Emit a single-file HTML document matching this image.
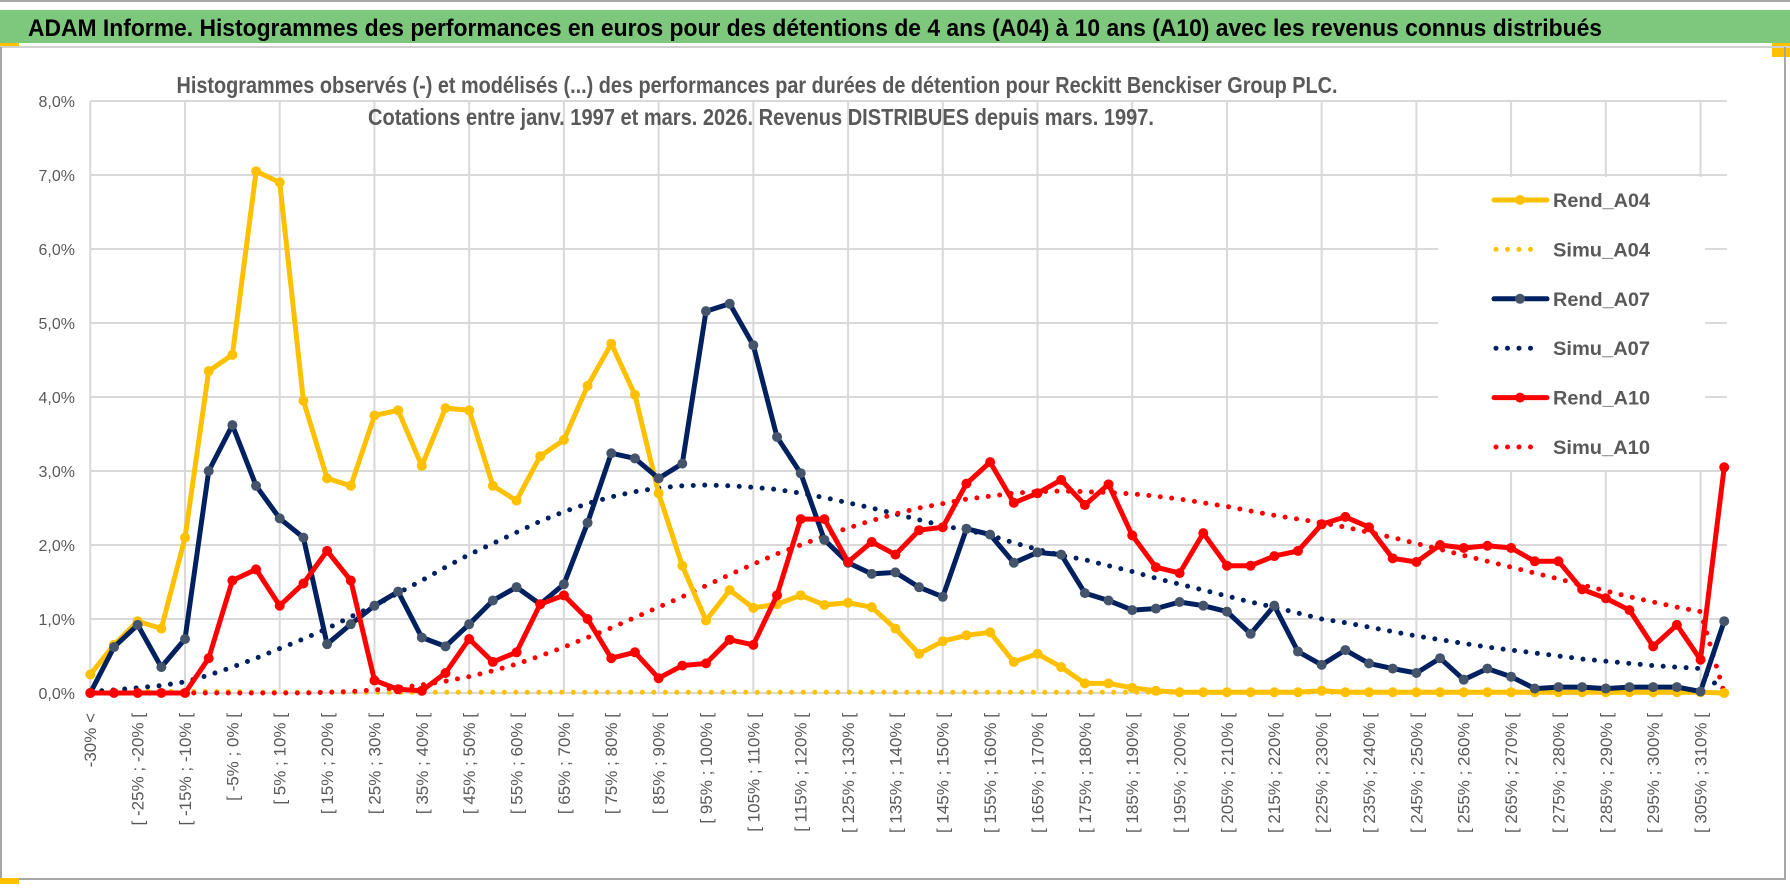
<!DOCTYPE html>
<html><head><meta charset="utf-8">
<style>
html,body{margin:0;padding:0;background:#fff;}
svg{display:block;font-family:"Liberation Sans",Arial,sans-serif;}
</style></head>
<body>
<svg id="chart" width="1790" height="888" viewBox="0 0 1790 888" xmlns="http://www.w3.org/2000/svg">
  <rect x="0" y="0" width="1790" height="888" fill="#fff"/>
  <line x1="0" y1="1" x2="1790" y2="1" stroke="#a6a6a6" stroke-width="2"/>
  <rect x="0" y="10" width="1790" height="33" fill="#7dc87d"/>
  <text x="28" y="36" font-size="24" font-weight="bold" fill="#000" textLength="1574" lengthAdjust="spacingAndGlyphs">ADAM Informe. Histogrammes des performances en euros pour des détentions de 4 ans (A04) à 10 ans (A10) avec les revenus connus distribués</text>
  <rect x="0" y="43" width="19" height="4" fill="#ffc000"/>
  <rect x="1772" y="43" width="18" height="14" fill="#ffc000"/>
  <line x1="0" y1="47" x2="1790" y2="47" stroke="#d0d0d0" stroke-width="2"/>
  <line x1="1" y1="47" x2="1" y2="879" stroke="#a6a6a6" stroke-width="2"/>
  <line x1="1785" y1="47" x2="1785" y2="879" stroke="#a6a6a6" stroke-width="2"/>
  <line x1="0" y1="879" x2="1786" y2="879" stroke="#a6a6a6" stroke-width="2"/>
  <rect x="0" y="878" width="19" height="6" fill="#ffc000"/>
  <g id="grid"></g>
  <g id="series"></g>
  <text x="757" y="93" font-size="23" font-weight="bold" fill="#595959" text-anchor="middle" textLength="1161" lengthAdjust="spacingAndGlyphs">Histogrammes observés (-) et modélisés (...) des performances par durées de détention pour Reckitt Benckiser Group PLC.</text>
  <text x="761" y="125" font-size="23" font-weight="bold" fill="#595959" text-anchor="middle" textLength="786" lengthAdjust="spacingAndGlyphs">Cotations entre janv. 1997 et mars. 2026. Revenus DISTRIBUES depuis mars. 1997.</text>
  <g id="legend"></g>
  <g id="ylabels"></g>
  <g id="xlabels"></g>
</svg>
<script>
const yTicks = [0,1,2,3,4,5,6,7,8];
const rendA04 = [0.25,0.65,0.97,0.87,2.1,4.35,4.57,7.05,6.9,3.95,2.9,2.8,3.75,3.82,3.07,3.85,3.82,2.8,2.6,3.2,3.42,4.15,4.72,4.03,2.7,1.72,0.98,1.39,1.15,1.2,1.32,1.19,1.22,1.16,0.87,0.53,0.7,0.78,0.82,0.42,0.53,0.35,0.13,0.13,0.07,0.03,0.01,0.01,0.01,0.01,0.01,0.01,0.03,0.01,0.01,0.01,0.01,0.01,0.01,0.01,0.01,0.01,0.01,0.01,0.01,0.01,0.01,0.01,0.01,0.0];
const simuA04 = [0.03,0.03,0.03,0.02,0.02,0.02,0.02,0.01,0.01,0.01,0.01,0.01,0.01,0.01,0.01,0.01,0.01,0.01,0.01,0.01,0.01,0.01,0.01,0.01,0.01,0.01,0.01,0.01,0.01,0.01,0.01,0.01,0.01,0.01,0.01,0.01,0.01,0.01,0.01,0.01,0.01,0.01,0.01,0.01,0.01,0.01,0.01,0.01,0.01,0.01,0.01,0.01,0.01,0.01,0.01,0.01,0.01,0.01,0.01,0.01,0.01,0.01,0.01,0.01,0.01,0.01,0.01,0.01,0.01,0.0];
const rendA07 = [0.0,0.62,0.92,0.35,0.73,3.0,3.62,2.8,2.36,2.1,0.66,0.93,1.18,1.37,0.75,0.63,0.93,1.25,1.43,1.2,1.47,2.3,3.24,3.17,2.9,3.1,5.16,5.26,4.7,3.46,2.97,2.07,1.76,1.61,1.63,1.43,1.3,2.22,2.14,1.76,1.9,1.87,1.35,1.25,1.12,1.14,1.23,1.18,1.1,0.8,1.18,0.56,0.38,0.58,0.4,0.33,0.27,0.47,0.18,0.33,0.22,0.06,0.08,0.08,0.06,0.08,0.08,0.08,0.02,0.97];
const simuA07 = [0.02,0.04,0.07,0.1,0.15,0.24,0.35,0.47,0.6,0.73,0.87,1.03,1.18,1.35,1.52,1.7,1.87,2.02,2.17,2.32,2.45,2.56,2.65,2.72,2.77,2.8,2.81,2.8,2.78,2.75,2.7,2.64,2.57,2.5,2.42,2.34,2.26,2.2,2.13,2.03,1.94,1.86,1.8,1.72,1.64,1.55,1.47,1.39,1.31,1.23,1.16,1.08,1.0,0.95,0.89,0.83,0.77,0.72,0.67,0.62,0.58,0.54,0.5,0.46,0.43,0.4,0.37,0.35,0.33,0.0];
const rendA10 = [0,0,0,0,0,0.47,1.52,1.67,1.18,1.48,1.92,1.52,0.17,0.05,0.03,0.27,0.73,0.42,0.55,1.2,1.32,1.0,0.47,0.55,0.2,0.37,0.4,0.72,0.65,1.32,2.35,2.35,1.77,2.04,1.87,2.2,2.24,2.83,3.12,2.57,2.7,2.88,2.54,2.82,2.13,1.7,1.62,2.16,1.72,1.72,1.85,1.92,2.28,2.38,2.24,1.82,1.77,2.0,1.96,1.99,1.96,1.78,1.78,1.4,1.28,1.12,0.63,0.92,0.45,3.05];
const simuA10 = [0,0,0,0,0,0,0,0,0,0,0.01,0.02,0.04,0.07,0.11,0.16,0.22,0.3,0.39,0.5,0.62,0.75,0.88,1.02,1.16,1.3,1.45,1.6,1.74,1.88,2.0,2.12,2.23,2.33,2.42,2.5,2.56,2.62,2.66,2.7,2.72,2.73,2.72,2.71,2.69,2.66,2.62,2.57,2.52,2.46,2.4,2.35,2.3,2.24,2.17,2.1,2.02,1.94,1.86,1.78,1.7,1.62,1.54,1.46,1.38,1.3,1.23,1.16,1.1,0.0];
const categoryStarts = [-30,-25,-20,-15,-10,-5,0,5,10,15,20,25,30,35,40,45,50,55,60,65,70,75,80,85,90,95,100,105,110,115,120,125,130,135,140,145,150,155,160,165,170,175,180,185,190,195,200,205,210,215,220,225,230,235,240,245,250,255,260,265,270,275,280,285,290,295,300,305,310];

const NS = "http://www.w3.org/2000/svg";
const X0 = 90.3, DX = 23.68, Y0 = 693, DY = 74, XR = 1727;
const nCat = rendA04.length;
function xPos(i){ return X0 + i*DX; }
function yPos(v){ return Y0 - v*DY; }
function mk(tag, attrs, parent){ const e=document.createElementNS(NS,tag); for(const k in attrs) e.setAttribute(k,attrs[k]); parent.appendChild(e); return e; }

const grid = document.getElementById('grid');
yTicks.forEach(t=>{
  const l = mk('line',{x1:X0,x2:XR,y1:yPos(t),y2:yPos(t),stroke:'#d9d9d9','stroke-width':2},grid);
  
  
});
for(let i=0;i<nCat;i+=4){
  const l = mk('line',{x1:xPos(i),x2:xPos(i),y1:yPos(8),y2:Y0,stroke:'#d9d9d9','stroke-width':2},grid);
  
  
}

const ylab = document.getElementById('ylabels');
yTicks.forEach(t=>{
  const tx = mk('text',{x:75,y:yPos(t)+6,'font-size':16,fill:'#595959','text-anchor':'end'},ylab);
  tx.textContent = t.toFixed(1).replace('.',',')+'%';
  
  
});

const xlab = document.getElementById('xlabels');
for(let i=0;i<nCat;i+=2){
  let s;
  if(i===0) s='-30% <';
  else { const a=categoryStarts[i-1]; s='[ '+a+'% ; '+(a+5)+'% ['; }
  const x = xPos(i), y = 713;
  const tx = mk('text',{x:x,y:y,dy:'0.35em','font-size':17,fill:'#595959','text-anchor':'end',transform:'rotate(-90 '+x+' '+y+')'},xlab);
  tx.textContent = s;
  
  
}

const ser = document.getElementById('series');
function drawDotted(data,color,name){
  const pts = data.map((v,i)=>xPos(i).toFixed(1)+','+yPos(v).toFixed(1)).join(' ');
  const p = mk('polyline',{points:pts,fill:'none',stroke:color,'stroke-width':5,'stroke-linecap':'round','stroke-dasharray':'0 11.5'},ser);
  
  
}
function drawSolid(data,color,mcolor,name){
  const pts = data.map((v,i)=>xPos(i).toFixed(1)+','+yPos(v).toFixed(1)).join(' ');
  const p = mk('polyline',{points:pts,fill:'none',stroke:color,'stroke-width':5,'stroke-linejoin':'round'},ser);
  
  
  data.forEach((v,i)=>{
    const c = mk('circle',{cx:xPos(i),cy:yPos(v),r:5,fill:mcolor},ser);
    
    
  });
}
drawDotted(simuA04,'#ffc000','simu-a04-line');
drawDotted(simuA07,'#002060','simu-a07-line');
drawDotted(simuA10,'#ff0000','simu-a10-line');
drawSolid(rendA04,'#ffc000','#ffc000','rend-a04-line');
drawSolid(rendA07,'#002060','#44546a','rend-a07-line');
drawSolid(rendA10,'#ff0000','#ff0000','rend-a10-line');

const leg = document.getElementById('legend');
const bg = mk('rect',{x:1438,y:177,width:267,height:293,fill:'#fff'},leg);


const legendItems = [['Rend_A04','#ffc000','#ffc000',false],['Simu_A04','#ffc000','',true],['Rend_A07','#002060','#44546a',false],['Simu_A07','#002060','',true],['Rend_A10','#ff0000','#ff0000',false],['Simu_A10','#ff0000','',true]];
legendItems.forEach((it,k)=>{
  const y = 200 + k*49.4;
  const g = mk('g',{},leg);
  
  
  if(it[3]){
    mk('line',{x1:1496,x2:1542,y1:y,y2:y,stroke:it[1],'stroke-width':5,'stroke-linecap':'round','stroke-dasharray':'0 11.5'},g);
  } else {
    mk('line',{x1:1494,x2:1547,y1:y,y2:y,stroke:it[1],'stroke-width':5,'stroke-linecap':'round'},g);
    mk('circle',{cx:1520,cy:y,r:5,fill:it[2]},g);
  }
  const t = mk('text',{x:1553,y:y+7,'font-size':19,'font-weight':'bold',fill:'#595959',textLength:97,lengthAdjust:'spacingAndGlyphs'},g);
  t.textContent = it[0];
});
</script>
</body></html>
